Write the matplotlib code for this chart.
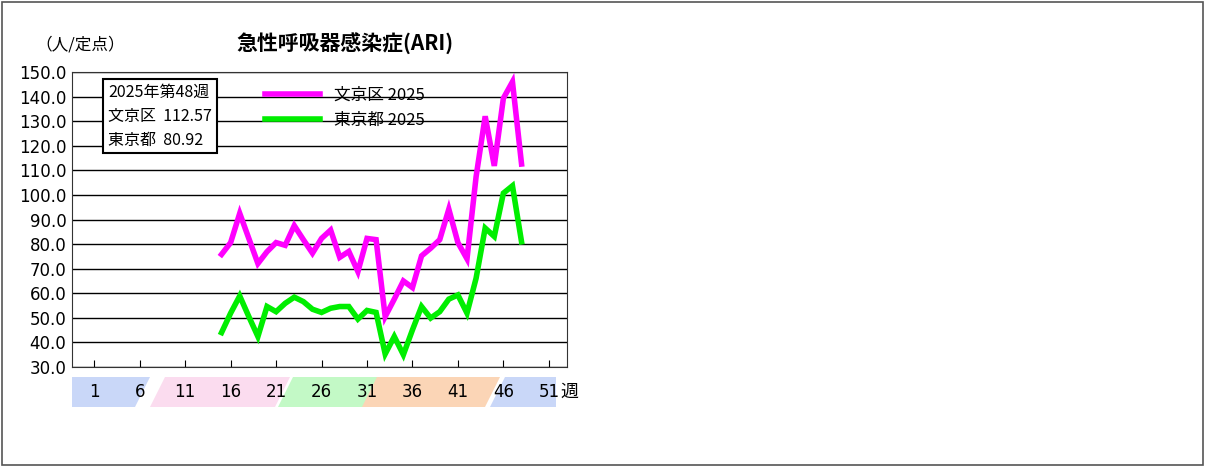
import matplotlib
matplotlib.use("Agg")
import matplotlib.pyplot as plt
from matplotlib.patches import Polygon, Rectangle

plt.rcParams['font.family'] = ['Noto Sans CJK JP', 'DejaVu Sans']

weeks = list(range(15, 49))
bunkyo = [75.8, 80.6, 92.5, 82.3, 72.1, 76.9, 80.6, 79.5, 87.5, 81.8, 76.3, 82.3, 85.7, 74.6,
          77.0, 68.8, 82.3, 81.8, 50.5, 57.6, 65.0, 62.3, 75.2, 78.3, 81.8, 94.2, 80.6, 74.0,
          107.4, 132.0, 111.8, 139.3, 146.0, 112.57]
tokyo = [44.0, 51.9, 58.9, 50.5, 42.4, 54.6, 52.5, 55.9, 58.4, 56.6, 53.5, 52.2, 53.9, 54.6,
         54.6, 49.5, 53.0, 52.2, 35.3, 42.4, 35.0, 45.1, 54.6, 49.9, 52.5, 57.6, 59.3, 51.9,
         66.1, 86.5, 83.1, 100.7, 103.7, 80.92]
xticks = [1, 6, 11, 16, 21, 26, 31, 36, 41, 46, 51]
yticks = [30 + 10 * i for i in range(13)]

W, H = 1205, 467
fig = plt.figure(figsize=(W / 100, H / 100), dpi=100)
fig.add_artist(Rectangle((2 / W, 2 / H), 1 - 4 / W, 1 - 4 / H, transform=fig.transFigure,
                         fill=False, ec='#555555', lw=1.2))

ax = fig.add_axes([72 / W, 1 - 367 / H, (567 - 72) / W, (367 - 72) / H])
ax.plot(weeks, bunkyo, color='#ff00ff', lw=4, label='文京区 2025', solid_joinstyle='miter')
ax.plot(weeks, tokyo, color='#00ee00', lw=4, label='東京都 2025', solid_joinstyle='miter')
ax.set_ylim(30, 150)
ax.set_xlim(-1.45, 53)
ax.set_yticks(yticks)
ax.set_yticklabels([f'{v:.1f}' for v in yticks], fontsize=12, family=['DejaVu Sans'])
ax.set_xticks(xticks)
ax.set_xticklabels([])
ax.tick_params(axis='x', length=5, direction='in')
ax.tick_params(axis='y', length=0, pad=4)
ax.grid(axis='y', color='black', lw=1)
for s in ax.spines.values():
    s.set_color('#333333')
ax.set_axisbelow(True)

# x label bands
bands = [(72, 150, '#c9d7f8'), (150, 290, '#fbdcef'), (278, 378, '#c3f9c6'),
         (362, 500, '#fbd5b6'), (490, 556, '#c9d7f8')]
y0, y1 = 1 - 407 / H, 1 - 377 / H
for i, (a, b, c) in enumerate(bands):
    sl = 0 if i == 0 else 15
    sr = 0 if i == len(bands) - 1 else 15
    pts = [(a / W, y0), ((b - sr) / W, y0), (b / W, y1), ((a + sl) / W, y1)]
    fig.add_artist(Polygon(pts, closed=True, transform=fig.transFigure, fc=c, ec='none', zorder=0))
for t in xticks:
    xd = ax.transData.transform((t, 30))[0] / W
    fig.text(xd, 1 - 392 / H, str(t), ha='center', va='center', fontsize=12, family=['DejaVu Sans'])
fig.text(560 / W, 1 - 392 / H, '週', ha='left', va='center', fontsize=13)

fig.text(35 / W, 1 - 45 / H, '（人/定点）', ha='left', va='center', fontsize=12)
fig.text(345 / W, 1 - 44 / H, '急性呼吸器感染症(ARI)', ha='center', va='center', fontsize=15, fontweight='bold')

ax.legend(loc='upper left', bbox_to_anchor=(0.36, 1.0), frameon=False, fontsize=12,
          handlelength=3.3, labelspacing=0.5)
fig.text(108 / W, 1 - 116 / H, '2025年第48週\n文京区  112.57\n東京都  80.92', ha='left', va='center',
         fontsize=11.5, linespacing=1.55,
         bbox=dict(boxstyle='square,pad=0.3', fc='white', ec='black', lw=1.5))

fig.savefig('out.png', dpi=100)
